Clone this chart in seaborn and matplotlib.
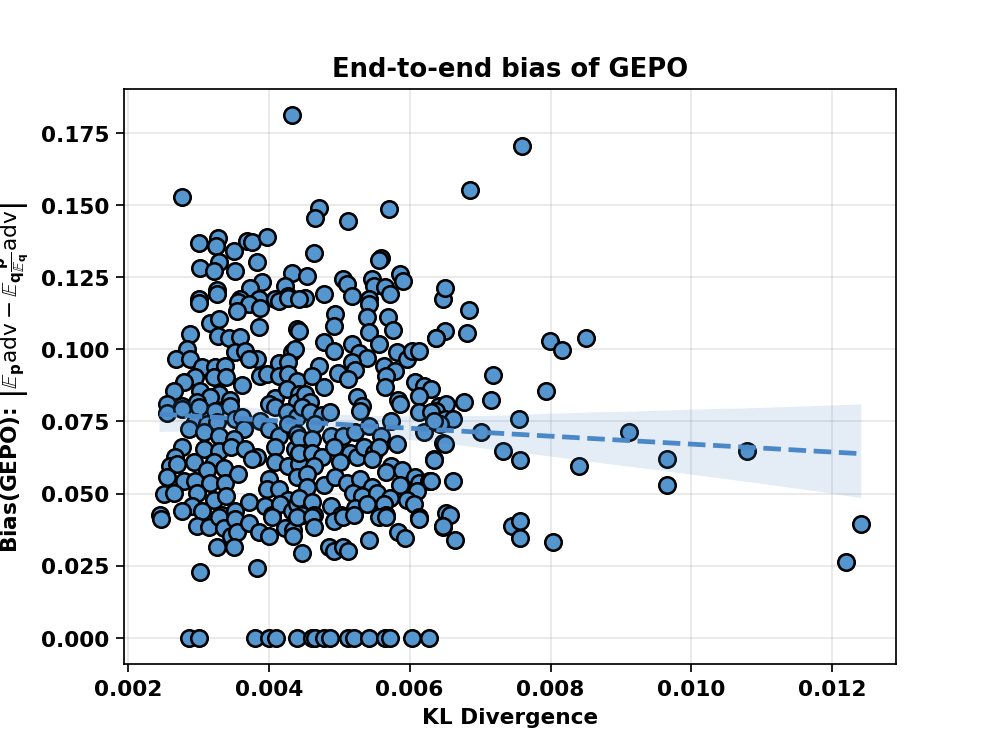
import numpy as np
import pandas as pd
import seaborn as sns
import matplotlib
matplotlib.use("Agg")
import matplotlib.pyplot as plt

# KL divergence (in units of 1e-3) and bias values
kl_milli = [
    # upper cluster
    4.33, 2.77, 3.01, 3.28, 3.25, 3.50, 3.69, 3.76, 3.97, 3.02, 3.29, 3.22, 3.52, 3.83,
    3.90, 4.33, 4.23, 3.26, 3.73, 4.28, 3.01, 3.59, 3.86, 4.09,
    4.71, 4.65, 5.12, 5.70, 4.64, 5.59, 5.56, 4.54, 5.06, 5.11, 5.46, 5.50, 5.65, 5.86,
    5.91, 4.51, 4.78, 5.18, 5.42, 5.72,
    # 0.08 - 0.12 band, left part
    3.01, 3.26, 3.57, 3.72, 3.87, 3.55, 4.14, 4.28, 4.43, 3.16, 3.30, 3.86, 2.88, 3.28,
    3.43, 3.59, 4.40, 2.84, 2.68, 2.88, 3.52, 3.66, 3.83, 3.72, 4.33, 4.37, 4.14, 4.28,
    3.05, 3.23, 3.38, 2.95, 2.79, 3.22, 3.40, 3.62, 3.87, 3.97, 4.14, 4.28, 4.40, 2.65,
    3.02, 3.30, 3.16, 3.45, 4.09, 4.26, 4.43, 2.55, 2.77, 2.98, 4.00, 4.40,
    # 0.08 - 0.12 band, right part
    5.42, 4.94, 4.92, 5.40, 5.69, 4.43, 5.43, 5.77, 6.47, 6.50, 6.37, 4.78, 4.92, 5.18,
    5.28, 5.39, 5.57, 5.82, 5.96, 6.03, 6.14, 5.18, 5.22, 4.99, 5.13, 4.71, 4.61, 4.78,
    5.63, 5.79, 5.67, 5.65, 6.07, 6.21, 6.31, 6.14, 4.51, 4.58, 5.25, 5.32, 5.84, 5.86,
    6.41, 6.52,
    # 0.04 - 0.08 band, left part
    2.55, 2.77, 3.01, 3.23, 3.45, 3.52, 3.62, 2.95, 3.12, 3.26, 2.87, 3.08, 3.65, 3.30,
    3.50, 3.87, 4.00, 4.14, 4.09, 4.26, 4.40, 4.28, 4.40, 2.77, 3.08, 3.30, 3.47, 3.66,
    3.83, 3.76, 4.09, 4.37, 2.67, 2.60, 2.70, 2.94, 3.22, 3.36, 3.12, 4.09, 4.28, 4.43,
    2.55, 2.79, 2.95, 3.16, 3.38, 3.57, 4.00, 3.97, 4.14, 4.40, 2.51, 2.65, 2.98, 3.22,
    3.40, 4.28, 2.91, 2.77, 3.05, 3.33, 3.52, 3.72, 3.94, 4.04, 4.16, 4.33, 4.40, 2.45,
    # 0.04 - 0.08 band, right part
    4.47, 4.58, 4.75, 4.87, 4.65, 4.89, 5.06, 5.22, 5.29, 5.43, 5.60, 5.74, 6.13, 6.38,
    6.50, 6.21, 6.48, 4.43, 4.61, 4.43, 4.61, 4.75, 4.92, 5.15, 5.25, 5.35, 5.49, 5.56,
    5.46, 5.82, 5.01, 5.74, 5.67, 5.89, 6.34, 4.64, 4.54, 4.54, 4.78, 4.94, 5.11, 5.29,
    5.46, 5.86, 6.07, 6.14, 6.27, 6.10, 4.43, 4.61, 4.89, 5.20, 5.32, 5.53, 5.72, 5.96,
    6.06, 5.22, 5.39, 5.63, 5.67, 6.14, 6.52, 5.03, 4.47, 4.64,
    # lower band
    2.47, 2.98, 3.15, 3.29, 3.36, 3.52, 3.47, 3.55, 3.26, 3.50, 3.72, 3.86, 4.01, 4.04,
    4.23, 4.35, 4.35, 4.47, 3.02, 3.83, 4.40, 4.61, 4.64, 4.92, 5.06, 5.21, 5.56, 5.67,
    6.14, 6.48, 4.85, 4.92, 5.06, 5.12, 5.42, 5.84, 5.93,
    # zeros
    2.87, 3.01, 3.80, 4.00, 4.10, 4.40, 4.61, 4.65, 4.79, 4.87, 5.13, 5.21, 5.42, 5.65,
    5.72, 6.03, 6.27,
    # sparse right side
    7.59, 6.85, 6.50, 6.84, 6.38, 6.81, 7.99, 8.16, 8.50, 7.18, 7.94, 7.16, 6.77, 6.62,
    7.55, 6.31, 6.43, 6.34, 7.01, 6.50, 6.35, 7.32, 7.57, 8.40, 6.31, 6.61, 6.58, 6.48,
    6.65, 7.45, 7.56, 7.57, 8.04, 9.12, 9.66, 9.66, 10.79, 12.20, 12.41,
]

bias = [
    # upper cluster
    0.1813, 0.1528, 0.1368, 0.1385, 0.1358, 0.1340, 0.1375, 0.1372, 0.1389, 0.1281, 0.1302,
    0.1271, 0.1271, 0.1302, 0.1233, 0.1264, 0.1219, 0.1205, 0.1212, 0.1184, 0.1174, 0.1174,
    0.1174, 0.1174,
    0.1490, 0.1455, 0.1444, 0.1486, 0.1333, 0.1316, 0.1309, 0.1253, 0.1243, 0.1226, 0.1243,
    0.1219, 0.1215, 0.1260, 0.1236, 0.1177, 0.1191, 0.1184, 0.1174, 0.1191,
    # 0.08 - 0.12 band, left part
    0.1160, 0.1191, 0.1163, 0.1156, 0.1142, 0.1132, 0.1167, 0.1177, 0.1174, 0.1090, 0.1104,
    0.1076, 0.1052, 0.1045, 0.1038, 0.1042, 0.1069, 0.1000, 0.0965, 0.0965, 0.0990, 0.0993,
    0.0965, 0.0965, 0.0990, 0.1000, 0.0951, 0.0955, 0.0938, 0.0938, 0.0941, 0.0903, 0.0885,
    0.0903, 0.0903, 0.0878, 0.0906, 0.0913, 0.0906, 0.0913, 0.0889, 0.0854, 0.0854, 0.0844,
    0.0833, 0.0823, 0.0830, 0.0861, 0.0844, 0.0809, 0.0802, 0.0816, 0.0809, 0.0816,
    # 0.08 - 0.12 band, right part
    0.1156, 0.1122, 0.1080, 0.1111, 0.1111, 0.1063, 0.1059, 0.1066, 0.1174, 0.1063, 0.1038,
    0.1024, 0.0993, 0.1017, 0.0986, 0.0969, 0.1017, 0.0990, 0.0965, 0.0993, 0.0993, 0.0955,
    0.0927, 0.0917, 0.0896, 0.0941, 0.0906, 0.0868, 0.0941, 0.0924, 0.0906, 0.0868, 0.0885,
    0.0872, 0.0861, 0.0837, 0.0844, 0.0816, 0.0833, 0.0802, 0.0826, 0.0809, 0.0802, 0.0812,
    # 0.04 - 0.08 band, left part
    0.0778, 0.0792, 0.0799, 0.0785, 0.0802, 0.0757, 0.0764, 0.0747, 0.0740, 0.0747, 0.0722,
    0.0715, 0.0722, 0.0698, 0.0688, 0.0750, 0.0722, 0.0698, 0.0799, 0.0781, 0.0767, 0.0740,
    0.0705, 0.0663, 0.0656, 0.0646, 0.0663, 0.0653, 0.0628, 0.0618, 0.0663, 0.0653, 0.0628,
    0.0594, 0.0601, 0.0608, 0.0611, 0.0590, 0.0583, 0.0608, 0.0594, 0.0601, 0.0559, 0.0542,
    0.0542, 0.0538, 0.0535, 0.0566, 0.0549, 0.0514, 0.0514, 0.0559, 0.0500, 0.0503, 0.0503,
    0.0479, 0.0490, 0.0479, 0.0455, 0.0438, 0.0438, 0.0427, 0.0438, 0.0469, 0.0455, 0.0427,
    0.0462, 0.0438, 0.0462, 0.0427,
    # 0.04 - 0.08 band, right part
    0.0799, 0.0781, 0.0774, 0.0781, 0.0740, 0.0698, 0.0698, 0.0712, 0.0785, 0.0733, 0.0698,
    0.0750, 0.0781, 0.0785, 0.0757, 0.0715, 0.0674, 0.0694, 0.0688, 0.0642, 0.0639, 0.0628,
    0.0660, 0.0642, 0.0625, 0.0660, 0.0642, 0.0660, 0.0618, 0.0670, 0.0608, 0.0594, 0.0576,
    0.0583, 0.0618, 0.0594, 0.0566, 0.0521, 0.0531, 0.0559, 0.0538, 0.0549, 0.0521, 0.0531,
    0.0559, 0.0538, 0.0542, 0.0507, 0.0486, 0.0472, 0.0455, 0.0503, 0.0490, 0.0503, 0.0486,
    0.0479, 0.0462, 0.0451, 0.0462, 0.0462, 0.0427, 0.0420, 0.0434, 0.0427, 0.0427, 0.0427,
    # lower band
    0.0413, 0.0389, 0.0385, 0.0417, 0.0382, 0.0410, 0.0351, 0.0365, 0.0316, 0.0316, 0.0399,
    0.0368, 0.0354, 0.0417, 0.0382, 0.0375, 0.0351, 0.0295, 0.0229, 0.0243, 0.0417, 0.0417,
    0.0385, 0.0403, 0.0417, 0.0427, 0.0417, 0.0417, 0.0410, 0.0385, 0.0313, 0.0299, 0.0316,
    0.0302, 0.0340, 0.0365, 0.0347,
    # zeros
    0.0, 0.0, 0.0, 0.0, 0.0, 0.0, 0.0, 0.0, 0.0, 0.0, 0.0, 0.0, 0.0, 0.0, 0.0, 0.0, 0.0,
    # sparse right side
    0.1705, 0.1552, 0.1212, 0.1135, 0.1038, 0.1056, 0.1028, 0.0997, 0.1038, 0.0910, 0.0854,
    0.0826, 0.0819, 0.0758, 0.0757, 0.0781, 0.0740, 0.0750, 0.0715, 0.0670, 0.0615, 0.0646,
    0.0615, 0.0597, 0.0542, 0.0542, 0.0427, 0.0389, 0.0340, 0.0389, 0.0403, 0.0347, 0.0333,
    0.0715, 0.0618, 0.0531, 0.0646, 0.0264, 0.0396,
]

df = pd.DataFrame({"kl": np.array(kl_milli) * 1e-3, "bias": bias})

point_color = "#5596cf"

fig, ax = plt.subplots(figsize=(6.4, 4.8), dpi=155.6)
sns.regplot(
    data=df, x="kl", y="bias", ax=ax, seed=0,
    scatter_kws=dict(s=58, color=point_color, edgecolor="black", linewidths=1.2, alpha=1),
    line_kws=dict(color="#4a88c7", linestyle="--", linewidth=2.2),
)
ax.grid(True, alpha=0.3)
ax.set_axisbelow(True)

ax.set_title("End-to-end bias of GEPO", fontsize=12, fontweight="bold")
ax.set_xlabel("KL Divergence", fontsize=10, fontweight="bold")
ax.set_ylabel(
    r"Bias(GEPO): $\left|\mathbb{E}_{\mathbf{p}}\mathrm{adv}-"
    r"\mathbb{E}_{\mathbf{q}}\frac{\mathbf{p}}{\mathbb{E}_{\mathbf{q}}}\mathrm{adv}\right|$",
    fontsize=10, fontweight="bold",
)
for lab in ax.get_xticklabels() + ax.get_yticklabels():
    lab.set_fontweight("bold")
ax.tick_params(labelsize=10)

fig.savefig("out.png", dpi=155.6)
